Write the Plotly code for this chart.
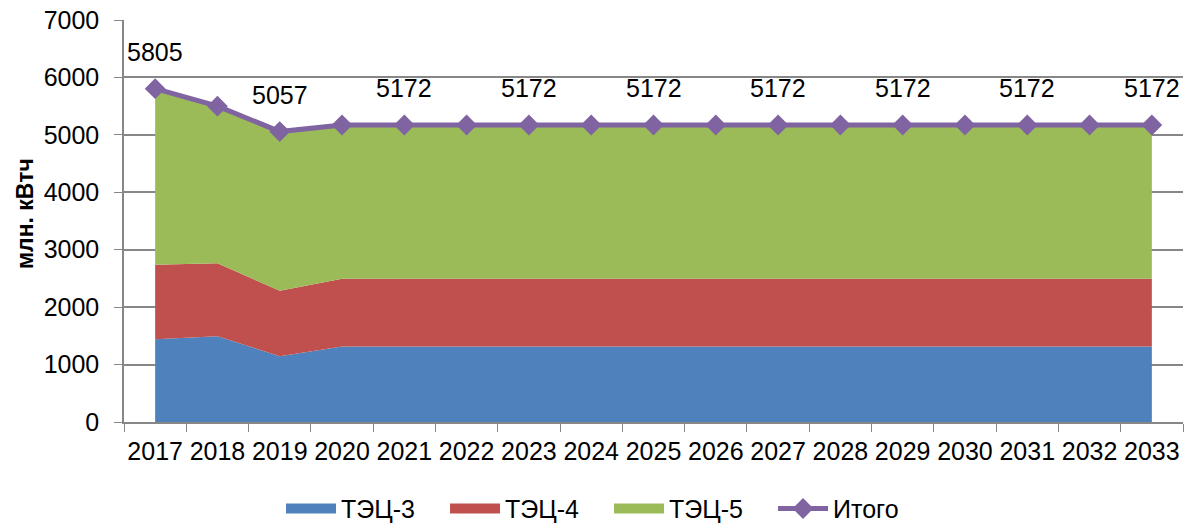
import plotly.graph_objects as go

years = [str(y) for y in range(2017, 2034)]
tec3 = [1440, 1495, 1145] + [1315] * 14
tec4 = [1300, 1270, 1140] + [1180] * 14
tec5 = [3065, 2735, 2772] + [2677] * 14
total = [5805, 5500, 5057] + [5172] * 14

x = list(range(len(years)))
FONT = "Liberation Sans, Arial, sans-serif"
GRID = "#878787"
areas = [("ТЭЦ-3", tec3, "#4F81BD"),
         ("ТЭЦ-4", tec4, "#C0504D"),
         ("ТЭЦ-5", tec5, "#9BBB59")]

fig = go.Figure()
for name, vals, col in areas:
    fig.add_trace(go.Scatter(
        x=x, y=vals, name=name, mode="lines", stackgroup="s",
        line=dict(width=0, color=col), fillcolor=col,
        showlegend=False, hoverinfo="skip"))

# legend keys for the stacked areas: wide solid swatches
for name, vals, col in areas:
    fig.add_trace(go.Scatter(
        x=[None], y=[None], name=name, mode="lines",
        line=dict(width=13, color=col)))

fig.add_trace(go.Scatter(
    x=x, y=total, name="Итого", mode="lines+markers",
    line=dict(color="#8064A2", width=5),
    marker=dict(symbol="diamond", size=16, color="#8064A2")))

# value labels on every second point
for i in range(0, len(x), 2):
    fig.add_annotation(x=x[i], y=total[i], text=str(total[i]),
                       showarrow=False, yshift=37,
                       font=dict(family=FONT, size=25, color="#000"))

fig.add_annotation(xref="paper", yref="paper", x=-0.0935, y=0.52,
                   xanchor="center", yanchor="middle",
                   text="<b>млн. кВтч</b>", textangle=-90, showarrow=False,
                   font=dict(family=FONT, size=23, color="#000"))

fig.update_layout(
    width=1196, height=525,
    margin=dict(l=124, r=13, t=20, b=103),
    paper_bgcolor="white", plot_bgcolor="white",
    font=dict(family=FONT, size=25, color="#000"),
    showlegend=True,
    legend=dict(orientation="h", x=0.458, xanchor="center",
                yref="container", y=0.031, yanchor="middle",
                entrywidth=99, entrywidthmode="pixels", itemwidth=50,
                font=dict(family=FONT, size=25), traceorder="normal"),
    xaxis=dict(
        range=[-0.5, len(x) - 0.5], tickmode="array",
        tickvals=x, ticktext=years, automargin=False,
        ticks="outside", ticklen=6, tickcolor="rgba(0,0,0,0)",
        ticklabelstandoff=0,
        minor=dict(tick0=-0.5, dtick=1, ticks="outside", ticklen=8,
                   tickcolor=GRID, showgrid=False),
        showline=True, linecolor=GRID, linewidth=1.5,
        showgrid=False, zeroline=False,
        tickfont=dict(family=FONT, size=25)),
    yaxis=dict(
        range=[0, 7000], tickvals=list(range(0, 7001, 1000)),
        automargin=False,
        ticks="outside", ticklen=8, tickcolor=GRID,
        ticklabelstandoff=10,
        showline=True, linecolor=GRID, linewidth=1.5,
        showgrid=True, gridcolor=GRID, gridwidth=1.5, zeroline=False,
        tickfont=dict(family=FONT, size=25)),
)

fig.write_html("out.html")
